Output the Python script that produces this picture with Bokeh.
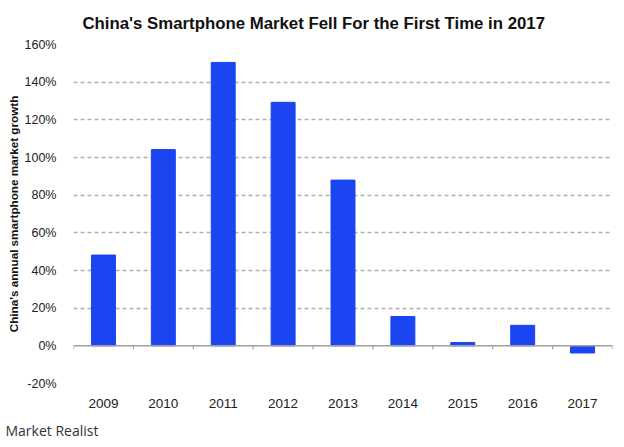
from bokeh.plotting import figure
from bokeh.models import FixedTicker, Span, Title, PrintfTickFormatter, ColumnDataSource
from bokeh.embed import file_html
from bokeh.resources import INLINE

years = ["2009", "2010", "2011", "2012", "2013", "2014", "2015", "2016", "2017"]
growth = [48.2, 104.2, 150.5, 129.3, 88.0, 15.6, 1.8, 10.9, -3.8]
y_ticks = [-20, 0, 20, 40, 60, 80, 100, 120, 140, 160]

FONT = "Liberation Sans"
BAR = "#1a45f0"

xs = [i + 0.5 for i in range(len(years))]
src = ColumnDataSource(dict(x=xs, top=growth))

p = figure(width=624, height=447, output_backend="svg", toolbar_location=None,
           x_range=(0, len(years)), y_range=(y_ticks[0], y_ticks[-1]),
           title="China's Smartphone Market Fell For the First Time in 2017",
           min_border_left=73, min_border_right=12, min_border_top=0, min_border_bottom=0)
p.outline_line_color = None
p.background_fill_color = "white"
p.border_fill_color = "white"

p.title.align = "left"
p.title.text_font = FONT
p.title.text_font_size = "16.8px"
p.title.text_font_style = "bold"
p.title.text_color = "#111111"
p.title.offset = 9
p.title.standoff = 23

p.add_layout(Title(text="Market Realist", align="left", text_font="Open Sans",
                   text_font_size="14px", text_font_style="normal", text_color="#333333",
                   offset=-68, standoff=16), "below")

p.vbar(x="x", top="top", bottom=0, width=0.4, color=BAR, source=src)

# baseline at 0 with category boundary ticks
p.add_layout(Span(location=0, dimension="width", line_color="#a0a0a0", line_width=1.5))
bx = list(range(len(years) + 1))
p.segment(x0=bx, x1=bx, y0=[0] * len(bx), y1=[-1.8] * len(bx), line_color="#a0a0a0", line_width=1.2)

# y axis
p.yaxis.ticker = FixedTicker(ticks=y_ticks)
p.yaxis.formatter = PrintfTickFormatter(format="%d%%")
p.yaxis.axis_line_color = None
p.yaxis.major_tick_line_color = None
p.yaxis.minor_tick_line_color = None
p.yaxis.major_label_text_font = FONT
p.yaxis.major_label_text_font_size = "12.5px"
p.yaxis.major_label_text_color = "#222222"
p.yaxis.major_label_standoff = 11
p.yaxis.axis_label = "China's annual smartphone market growth"
p.yaxis.axis_label_text_font = FONT
p.yaxis.axis_label_text_font_size = "11.7px"
p.yaxis.axis_label_text_font_style = "bold"
p.yaxis.axis_label_text_color = "#111111"
p.yaxis.axis_label_standoff = 2

# grid
p.ygrid.ticker = FixedTicker(ticks=[t for t in y_ticks if t != 0])
p.ygrid.grid_line_color = "#b0b0b0"
p.ygrid.grid_line_dash = "4 3"
p.ygrid.grid_line_width = 1.5
p.xgrid.grid_line_color = None

# x axis
p.xaxis.ticker = FixedTicker(ticks=xs)
p.xaxis.major_label_overrides = {x: y for x, y in zip(xs, years)}
p.xaxis.axis_line_color = None
p.xaxis.major_tick_line_color = None
p.xaxis.minor_tick_line_color = None
p.xaxis.major_label_text_font = FONT
p.xaxis.major_label_text_font_size = "13.5px"
p.xaxis.major_label_text_color = "#222222"
p.xaxis.major_label_standoff = 9

open("out.html", "w").write(file_html(p, INLINE))
